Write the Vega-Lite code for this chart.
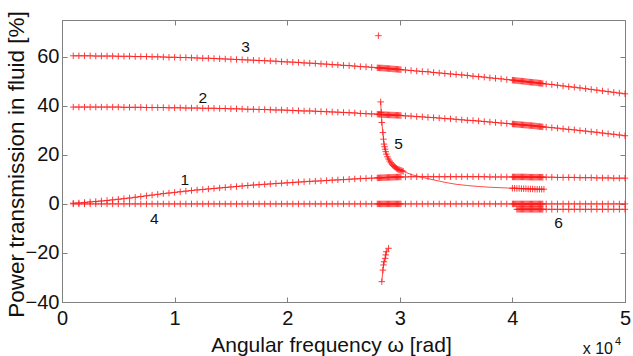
{
  "$schema": "https://vega.github.io/schema/vega-lite/v6.json",
  "width": 563,
  "height": 282,
  "autosize": "none",
  "padding": {"left": 62, "top": 20, "right": 8, "bottom": 54},
  "background": "white",
  "config": {
    "font": "Liberation Sans",
    "view": {"stroke": "#808080", "strokeWidth": 1},
    "axis": {
      "grid": false,
      "domainColor": "#808080",
      "tickColor": "#808080",
      "tickSize": -5,
      "labelColor": "#111",
      "titleColor": "#111",
      "labelFont": "Liberation Sans",
      "titleFont": "Liberation Sans",
      "labelFontSize": 20,
      "titleFontSize": 21,
      "titleFontWeight": "normal",
      "format": "d"
    }
  },
  "datasets": {
    "grid": [
      {"x":0.1,"a":0.3,"b":39.5,"c":60.4,"d":0},
      {"x":0.15,"a":0.4,"b":39.5,"c":60.4,"d":0},
      {"x":0.2,"a":0.6,"b":39.5,"c":60.4,"d":0},
      {"x":0.25,"a":0.8,"b":39.5,"c":60.4,"d":0},
      {"x":0.3,"a":1.0,"b":39.5,"c":60.3,"d":0},
      {"x":0.35,"a":1.2,"b":39.5,"c":60.3,"d":0},
      {"x":0.4,"a":1.4,"b":39.5,"c":60.3,"d":0},
      {"x":0.45,"a":1.65,"b":39.5,"c":60.3,"d":0},
      {"x":0.5,"a":1.9,"b":39.5,"c":60.2,"d":0},
      {"x":0.55,"a":2.15,"b":39.4,"c":60.2,"d":0},
      {"x":0.6,"a":2.4,"b":39.4,"c":60.2,"d":0},
      {"x":0.65,"a":2.7,"b":39.4,"c":60.1,"d":0},
      {"x":0.7,"a":3.0,"b":39.4,"c":60.1,"d":0},
      {"x":0.75,"a":3.3,"b":39.3,"c":60.1,"d":0},
      {"x":0.8,"a":3.6,"b":39.3,"c":60.0,"d":0},
      {"x":0.85,"a":3.9,"b":39.3,"c":60.0,"d":0},
      {"x":0.9,"a":4.2,"b":39.3,"c":59.9,"d":0},
      {"x":0.95,"a":4.45,"b":39.2,"c":59.8,"d":0},
      {"x":1.0,"a":4.7,"b":39.2,"c":59.8,"d":0},
      {"x":1.05,"a":4.95,"b":39.2,"c":59.7,"d":0},
      {"x":1.1,"a":5.2,"b":39.1,"c":59.7,"d":0},
      {"x":1.15,"a":5.45,"b":39.1,"c":59.6,"d":0},
      {"x":1.2,"a":5.7,"b":39.1,"c":59.5,"d":0},
      {"x":1.25,"a":5.9,"b":39.0,"c":59.4,"d":0},
      {"x":1.3,"a":6.1,"b":39.0,"c":59.4,"d":0},
      {"x":1.35,"a":6.3,"b":39.0,"c":59.3,"d":0},
      {"x":1.4,"a":6.5,"b":38.9,"c":59.2,"d":0},
      {"x":1.45,"a":6.7,"b":38.9,"c":59.1,"d":0},
      {"x":1.5,"a":6.9,"b":38.8,"c":59.0,"d":0},
      {"x":1.55,"a":7.1,"b":38.8,"c":58.9,"d":0},
      {"x":1.6,"a":7.3,"b":38.7,"c":58.8,"d":0},
      {"x":1.65,"a":7.5,"b":38.6,"c":58.7,"d":0},
      {"x":1.7,"a":7.7,"b":38.6,"c":58.6,"d":0},
      {"x":1.75,"a":7.85,"b":38.5,"c":58.5,"d":0},
      {"x":1.8,"a":8.0,"b":38.5,"c":58.4,"d":0},
      {"x":1.85,"a":8.15,"b":38.4,"c":58.3,"d":0},
      {"x":1.9,"a":8.3,"b":38.3,"c":58.2,"d":0},
      {"x":1.95,"a":8.45,"b":38.3,"c":58.0,"d":0},
      {"x":2.0,"a":8.6,"b":38.2,"c":57.9,"d":0},
      {"x":2.05,"a":8.75,"b":38.1,"c":57.8,"d":0},
      {"x":2.1,"a":8.9,"b":38.0,"c":57.7,"d":0},
      {"x":2.15,"a":9.05,"b":37.9,"c":57.5,"d":0},
      {"x":2.2,"a":9.2,"b":37.9,"c":57.4,"d":0},
      {"x":2.25,"a":9.3,"b":37.8,"c":57.3,"d":0},
      {"x":2.3,"a":9.4,"b":37.7,"c":57.1,"d":0},
      {"x":2.35,"a":9.55,"b":37.6,"c":57.0,"d":0},
      {"x":2.4,"a":9.7,"b":37.5,"c":56.8,"d":0},
      {"x":2.45,"a":9.8,"b":37.4,"c":56.7,"d":0},
      {"x":2.5,"a":9.9,"b":37.3,"c":56.5,"d":0},
      {"x":2.55,"a":10.05,"b":37.2,"c":56.4,"d":0},
      {"x":2.6,"a":10.2,"b":37.1,"c":56.2,"d":0},
      {"x":2.65,"a":10.3,"b":36.9,"c":56.0,"d":0},
      {"x":2.7,"a":10.4,"b":36.8,"c":55.9,"d":0},
      {"x":2.75,"a":10.5,"b":36.7,"c":55.7,"d":0},
      {"x":2.8,"a":10.6,"b":36.6,"c":55.5,"d":0},
      {"x":2.81,"a":10.62,"b":36.56,"c":55.48,"d":0},
      {"x":2.82,"a":10.64,"b":36.52,"c":55.46,"d":0},
      {"x":2.83,"a":10.66,"b":36.48,"c":55.44,"d":0},
      {"x":2.84,"a":10.68,"b":36.44,"c":55.42,"d":0},
      {"x":2.85,"a":10.7,"b":36.4,"c":55.4,"d":0},
      {"x":2.86,"a":10.72,"b":36.38,"c":55.36,"d":0},
      {"x":2.87,"a":10.74,"b":36.36,"c":55.32,"d":0},
      {"x":2.88,"a":10.76,"b":36.34,"c":55.28,"d":0},
      {"x":2.89,"a":10.78,"b":36.32,"c":55.24,"d":0},
      {"x":2.9,"a":10.8,"b":36.3,"c":55.2,"d":0},
      {"x":2.91,"a":10.82,"b":36.28,"c":55.16,"d":0},
      {"x":2.92,"a":10.84,"b":36.26,"c":55.12,"d":0},
      {"x":2.93,"a":10.86,"b":36.24,"c":55.08,"d":0},
      {"x":2.94,"a":10.88,"b":36.22,"c":55.04,"d":0},
      {"x":2.95,"a":10.9,"b":36.2,"c":55.0,"d":0},
      {"x":2.96,"a":10.92,"b":36.18,"c":54.96,"d":0},
      {"x":2.97,"a":10.94,"b":36.16,"c":54.92,"d":0},
      {"x":2.98,"a":10.96,"b":36.14,"c":54.88,"d":0},
      {"x":2.99,"a":10.98,"b":36.12,"c":54.84,"d":0},
      {"x":3.0,"a":11.0,"b":36.1,"c":54.8,"d":0},
      {"x":3.01,"a":11.0,"b":36.06,"c":54.76,"d":0},
      {"x":3.05,"a":11.0,"b":35.9,"c":54.6,"d":0},
      {"x":3.1,"a":11.1,"b":35.8,"c":54.4,"d":0},
      {"x":3.15,"a":11.1,"b":35.6,"c":54.2,"d":0},
      {"x":3.2,"a":11.1,"b":35.5,"c":54.0,"d":0},
      {"x":3.25,"a":11.1,"b":35.3,"c":53.9,"d":0},
      {"x":3.3,"a":11.1,"b":35.2,"c":53.6,"d":0},
      {"x":3.35,"a":11.1,"b":35.0,"c":53.4,"d":0},
      {"x":3.4,"a":11.1,"b":34.8,"c":53.2,"d":0},
      {"x":3.45,"a":11.1,"b":34.7,"c":53.0,"d":0},
      {"x":3.5,"a":11.1,"b":34.5,"c":52.8,"d":0},
      {"x":3.55,"a":11.1,"b":34.3,"c":52.6,"d":0},
      {"x":3.6,"a":11.1,"b":34.1,"c":52.4,"d":0},
      {"x":3.65,"a":11.1,"b":34.0,"c":52.1,"d":0},
      {"x":3.7,"a":11.1,"b":33.8,"c":51.9,"d":0},
      {"x":3.75,"a":11.1,"b":33.6,"c":51.7,"d":0},
      {"x":3.8,"a":11.0,"b":33.4,"c":51.4,"d":0},
      {"x":3.85,"a":11.0,"b":33.2,"c":51.2,"d":0},
      {"x":3.9,"a":11.0,"b":33.0,"c":51.0,"d":0},
      {"x":3.95,"a":11.0,"b":32.8,"c":50.7,"d":0},
      {"x":4.0,"a":11.0,"b":32.6,"c":50.5,"d":0},
      {"x":4.01,"a":11.0,"b":32.56,"c":50.44,"d":0},
      {"x":4.02,"a":11.0,"b":32.52,"c":50.38,"d":0},
      {"x":4.03,"a":11.0,"b":32.48,"c":50.32,"d":0},
      {"x":4.04,"a":11.0,"b":32.44,"c":50.26,"d":0,"f":-2.2},
      {"x":4.05,"a":11.0,"b":32.4,"c":50.2,"d":0,"f":-2.2},
      {"x":4.06,"a":11.0,"b":32.36,"c":50.16,"d":0,"f":-2.2},
      {"x":4.07,"a":11.0,"b":32.32,"c":50.12,"d":0,"f":-2.2},
      {"x":4.08,"a":11.0,"b":32.28,"c":50.08,"d":0,"f":-2.2},
      {"x":4.09,"a":11.0,"b":32.24,"c":50.04,"d":0,"f":-2.2},
      {"x":4.1,"a":11.0,"b":32.2,"c":50.0,"d":0,"f":-2.2},
      {"x":4.11,"a":11.0,"b":32.16,"c":49.94,"d":0,"f":-2.2},
      {"x":4.12,"a":11.0,"b":32.12,"c":49.88,"d":0,"f":-2.2},
      {"x":4.13,"a":10.95,"b":32.08,"c":49.82,"d":0,"f":-2.2},
      {"x":4.14,"a":10.95,"b":32.04,"c":49.76,"d":0,"f":-2.2},
      {"x":4.15,"a":10.9,"b":32.0,"c":49.7,"d":0,"f":-2.2},
      {"x":4.16,"a":10.9,"b":31.96,"c":49.66,"d":0,"f":-2.2},
      {"x":4.17,"a":10.9,"b":31.92,"c":49.62,"d":0,"f":-2.2},
      {"x":4.18,"a":10.9,"b":31.88,"c":49.58,"d":0,"f":-2.2},
      {"x":4.19,"a":10.9,"b":31.84,"c":49.54,"d":0,"f":-2.2},
      {"x":4.2,"a":10.9,"b":31.8,"c":49.5,"d":0,"f":-2.2},
      {"x":4.21,"a":10.9,"b":31.74,"c":49.44,"d":0,"f":-2.2},
      {"x":4.22,"a":10.9,"b":31.68,"c":49.38,"d":0,"f":-2.2},
      {"x":4.23,"a":10.9,"b":31.62,"c":49.32,"d":0,"f":-2.2},
      {"x":4.24,"a":10.9,"b":31.56,"c":49.26,"d":0,"f":-2.2},
      {"x":4.25,"a":10.9,"b":31.5,"c":49.2,"d":0,"f":-2.2},
      {"x":4.26,"a":10.9,"b":31.46,"c":49.14,"d":0,"f":-2.2},
      {"x":4.27,"a":10.9,"b":31.42,"c":49.08,"d":0,"f":-2.2},
      {"x":4.3,"a":10.9,"b":31.3,"c":48.9,"d":0,"f":-2.2},
      {"x":4.35,"a":10.9,"b":31.1,"c":48.7,"d":0,"f":-2.2},
      {"x":4.4,"a":10.8,"b":30.9,"c":48.4,"d":0,"f":-2.2},
      {"x":4.45,"a":10.8,"b":30.6,"c":48.1,"d":0,"f":-2.2},
      {"x":4.5,"a":10.8,"b":30.4,"c":47.8,"d":0,"f":-2.2},
      {"x":4.55,"a":10.8,"b":30.2,"c":47.6,"d":0,"f":-2.2},
      {"x":4.6,"a":10.7,"b":29.9,"c":47.3,"d":0,"f":-2.2},
      {"x":4.65,"a":10.7,"b":29.7,"c":47.0,"d":0,"f":-2.2},
      {"x":4.7,"a":10.7,"b":29.4,"c":46.7,"d":0,"f":-2.2},
      {"x":4.75,"a":10.6,"b":29.2,"c":46.4,"d":0,"f":-2.2},
      {"x":4.8,"a":10.6,"b":28.9,"c":46.1,"d":0,"f":-2.2},
      {"x":4.85,"a":10.6,"b":28.6,"c":45.8,"d":0,"f":-2.2},
      {"x":4.9,"a":10.5,"b":28.4,"c":45.5,"d":0,"f":-2.2},
      {"x":4.95,"a":10.5,"b":28.1,"c":45.2,"d":0,"f":-2.2},
      {"x":5.0,"a":10.5,"b":27.8,"c":44.9,"d":0,"f":-2.2}
    ],
    "branch": [
      {"s":"p","x":2.81,"y":68.6},
      {"s":"5","x":2.83,"y":41.6},
      {"s":"5","x":2.835,"y":37.3},
      {"s":"5","x":2.84,"y":33.2},
      {"s":"5","x":2.85,"y":29.1},
      {"s":"5","x":2.855,"y":26.4},
      {"s":"5","x":2.86,"y":24.4},
      {"s":"5","x":2.865,"y":23.3},
      {"s":"5","x":2.87,"y":22.3},
      {"s":"5","x":2.875,"y":21.3},
      {"s":"5","x":2.88,"y":20.3},
      {"s":"5","x":2.89,"y":19.2},
      {"s":"5","x":2.9,"y":18.3},
      {"s":"5","x":2.91,"y":17.5},
      {"s":"5","x":2.92,"y":16.8},
      {"s":"5","x":2.93,"y":16.2},
      {"s":"5","x":2.94,"y":15.7},
      {"s":"5","x":2.95,"y":15.3},
      {"s":"5","x":2.96,"y":14.9},
      {"s":"5","x":2.97,"y":14.5},
      {"s":"5","x":2.98,"y":14.2},
      {"s":"5","x":2.99,"y":14.0},
      {"s":"5","x":3.0,"y":13.9},
      {"s":"5","x":3.01,"y":13.7},
      {"s":"5","x":3.02,"y":13.5},
      {"s":"5","x":3.03,"y":13.3},
      {"s":"5","x":3.1,"y":12.0},
      {"s":"5","x":3.2,"y":10.8},
      {"s":"5","x":3.3,"y":9.8},
      {"s":"5","x":3.4,"y":8.8},
      {"s":"5","x":3.5,"y":8.0},
      {"s":"5","x":3.6,"y":7.5},
      {"s":"5","x":3.7,"y":7.1},
      {"s":"5","x":3.8,"y":6.8},
      {"s":"5","x":3.9,"y":6.6},
      {"s":"5","x":4.0,"y":6.4},
      {"s":"5","x":4.02,"y":6.4},
      {"s":"5","x":4.04,"y":6.3},
      {"s":"5","x":4.06,"y":6.3},
      {"s":"5","x":4.08,"y":6.2},
      {"s":"5","x":4.1,"y":6.2},
      {"s":"5","x":4.12,"y":6.2},
      {"s":"5","x":4.14,"y":6.1},
      {"s":"5","x":4.16,"y":6.1},
      {"s":"5","x":4.18,"y":6.1},
      {"s":"5","x":4.2,"y":6.0},
      {"s":"5","x":4.22,"y":6.0},
      {"s":"5","x":4.24,"y":6.0},
      {"s":"5","x":4.26,"y":6.0},
      {"s":"5","x":4.28,"y":6.0},
      {"s":"n","x":2.84,"y":-31.7},
      {"s":"n","x":2.85,"y":-27.0},
      {"s":"n","x":2.855,"y":-24.9},
      {"s":"n","x":2.86,"y":-23.6},
      {"s":"n","x":2.87,"y":-22.2},
      {"s":"n","x":2.875,"y":-20.8},
      {"s":"n","x":2.88,"y":-19.5},
      {"s":"n","x":2.9,"y":-18.1}
    ],
    "labels": [
      {"t":"1","x":1.09,"y":9.8},
      {"t":"2","x":1.25,"y":43.0},
      {"t":"3","x":1.63,"y":64.1},
      {"t":"4","x":0.82,"y":-6.2},
      {"t":"5","x":2.99,"y":24.5},
      {"t":"6","x":4.41,"y":-7.9}
    ]
  },
  "layer": [
    {
      "data": {"name": "grid"},
      "transform": [
        {"fold": ["a", "b", "c", "d", "f"], "as": ["s", "y"]},
        {"filter": "isValid(datum.y)"}
      ],
      "layer": [
        {
          "mark": {"type": "line", "color": "#ff2020", "strokeWidth": 0.7, "opacity": 0.9},
          "encoding": {
            "x": {"field": "x", "type": "quantitative", "scale": {"domain": [0, 5], "nice": false, "zero": false},
                  "axis": {"orient": "bottom", "values": [0, 1, 2, 3, 4, 5], "title": "Angular frequency ω [rad]", "labelPadding": 11, "titleBaseline": "alphabetic", "titleY": 49, "titleX": 269, "labelFlush": false}},
            "y": {"field": "y", "type": "quantitative", "scale": {"domain": [-40, 75], "nice": false, "zero": false},
                  "axis": {"orient": "left", "values": [-40, -20, 0, 20, 40, 60], "title": "Power transmission in fluid [%]", "titleFontSize": 22.5, "labelPadding": 8, "titleBaseline": "alphabetic", "titleX": -39, "titleY": 144, "labelFlush": false}},
            "detail": {"field": "s"}
          }
        },
        {
          "mark": {"type": "point", "shape": "M-1,0L1,0M0,-1L0,1", "filled": false, "stroke": "#ff1a1a", "strokeWidth": 1, "size": 42, "opacity": 0.85},
          "encoding": {
            "x": {"field": "x", "type": "quantitative"},
            "y": {"field": "y", "type": "quantitative"},
            "detail": {"field": "s"}
          }
        }
      ]
    },
    {
      "data": {"name": "branch"},
      "layer": [
        {
          "mark": {"type": "line", "color": "#ff2020", "strokeWidth": 0.9, "opacity": 0.9},
          "encoding": {
            "x": {"field": "x", "type": "quantitative", "axis": null},
            "y": {"field": "y", "type": "quantitative", "axis": null},
            "detail": {"field": "s"}
          }
        },
        {
          "transform": [{"filter": "datum.x < 3.05 || datum.x >= 3.99"}],
          "mark": {"type": "point", "shape": "M-1,0L1,0M0,-1L0,1", "filled": false, "stroke": "#ff1a1a", "strokeWidth": 1, "size": 42, "opacity": 0.85},
          "encoding": {
            "x": {"field": "x", "type": "quantitative", "axis": null},
            "y": {"field": "y", "type": "quantitative", "axis": null}
          }
        }
      ]
    },
    {
      "data": {"name": "labels"},
      "mark": {"type": "text", "font": "Liberation Sans", "fontSize": 15.5, "color": "#111"},
      "encoding": {
        "x": {"field": "x", "type": "quantitative",
              "axis": {"orient": "top", "values": [0, 1, 2, 3, 4, 5], "labels": false, "title": null, "domain": false}},
        "y": {"field": "y", "type": "quantitative",
              "axis": {"orient": "right", "values": [-40, -20, 0, 20, 40, 60], "labels": false, "title": null, "domain": false}},
        "text": {"field": "t"}
      }
    },
    {
      "data": {"values": [{"x": 5, "y": -40, "t": "x 10"}]},
      "mark": {"type": "text", "font": "Liberation Sans", "fontSize": 16, "color": "#111", "align": "right", "baseline": "alphabetic", "dx": -12, "dy": 52},
      "encoding": {
        "x": {"field": "x", "type": "quantitative", "axis": null},
        "y": {"field": "y", "type": "quantitative", "axis": null},
        "text": {"field": "t"}
      }
    },
    {
      "data": {"values": [{"x": 5, "y": -40, "t": "4"}]},
      "mark": {"type": "text", "font": "Liberation Sans", "fontSize": 11, "color": "#111", "align": "left", "baseline": "alphabetic", "dx": -10, "dy": 43},
      "encoding": {
        "x": {"field": "x", "type": "quantitative", "axis": null},
        "y": {"field": "y", "type": "quantitative", "axis": null},
        "text": {"field": "t"}
      }
    }
  ],
  "resolve": {"axis": {"x": "independent", "y": "independent"}}
}
